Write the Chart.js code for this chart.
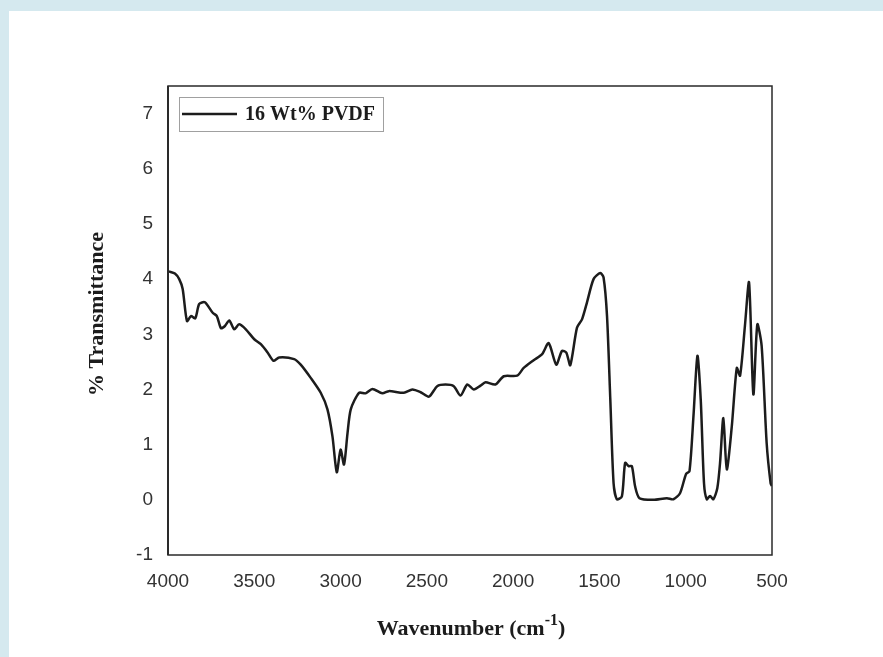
<!DOCTYPE html>
<html>
<head>
<meta charset="utf-8">
<script src="https://cdn.jsdelivr.net/npm/chart.js@4.4.0/dist/chart.umd.min.js"></script>
<style>
  html, body { margin: 0; padding: 0; }
  body { width: 883px; height: 657px; background: #d5e9ef; position: relative; overflow: hidden; }
  #panel { position: absolute; left: 9px; top: 11px; right: 0; bottom: 0; background: #ffffff; }
  #grafico { position: absolute; left: 0; top: 0; }
</style>
</head>
<body>
<div id="panel"></div>
<canvas id="grafico" width="883" height="657"></canvas>
<script>
const serieNombre = '16 Wt% PVDF';
const numerosOnda = [3995, 3960, 3935, 3915, 3890, 3867, 3842, 3819, 3786, 3741, 3717, 3693, 3670, 3645, 3616, 3588, 3549, 3500, 3462, 3423, 3389, 3356, 3269, 3231, 3173, 3115, 3076, 3047, 3022, 3000, 2980, 2960, 2941, 2893, 2855, 2816, 2758, 2720, 2633, 2584, 2536, 2488, 2440, 2392, 2344, 2305, 2266, 2228, 2189, 2160, 2103, 2054, 1977, 1939, 1881, 1832, 1794, 1750, 1717, 1692, 1669, 1630, 1601, 1572, 1534, 1495, 1476, 1456, 1437, 1418, 1399, 1370, 1351, 1331, 1312, 1293, 1268, 1187, 1109, 1071, 1033, 998, 978, 955, 932, 913, 894, 878, 859, 840, 817, 801, 782, 762, 733, 704, 685, 657, 633, 608, 585, 560, 531, 508, 500];
const transmitancia = [4.14, 4.10, 4.00, 3.82, 3.24, 3.33, 3.29, 3.55, 3.58, 3.39, 3.33, 3.11, 3.15, 3.25, 3.09, 3.18, 3.09, 2.91, 2.82, 2.67, 2.52, 2.58, 2.55, 2.45, 2.21, 1.94, 1.64, 1.15, 0.50, 0.91, 0.64, 1.20, 1.64, 1.94, 1.93, 2.01, 1.93, 1.97, 1.94, 2.00, 1.95, 1.87, 2.06, 2.09, 2.06, 1.89, 2.09, 2.00, 2.07, 2.13, 2.09, 2.24, 2.25, 2.39, 2.53, 2.64, 2.84, 2.45, 2.70, 2.67, 2.44, 3.12, 3.27, 3.58, 4.00, 4.11, 4.03, 3.33, 1.82, 0.30, 0.01, 0.06, 0.67, 0.61, 0.61, 0.24, 0.03, 0.00, 0.03, 0.01, 0.12, 0.47, 0.52, 1.52, 2.61, 1.82, 0.30, 0.01, 0.07, 0.01, 0.21, 0.67, 1.48, 0.55, 1.33, 2.39, 2.25, 3.15, 3.94, 1.91, 3.18, 2.79, 1.03, 0.30, 0.25];
const ticksX = [4000, 3500, 3000, 2500, 2000, 1500, 1000, 500];
const ticksY = [-1, 0, 1, 2, 3, 4, 5, 6, 7];

const fuenteSerif = "'Liberation Serif', 'Times New Roman', serif";
const fuenteSans = "'Liberation Sans', Arial, sans-serif";

// marco, leyenda y titulos de ejes
const decoracion = {
    id: 'decoracion',
    afterDraw(chart) {
        const ctx = chart.ctx;
        const a = chart.chartArea;
        ctx.save();

        // marco del grafico
        ctx.strokeStyle = '#2a2a2a';
        ctx.lineWidth = 1.5;
        ctx.strokeRect(a.left, a.top, a.right - a.left, a.bottom - a.top);
        ctx.lineWidth = 2;
        ctx.beginPath();
        ctx.moveTo(a.left, a.top);
        ctx.lineTo(a.left, a.bottom);
        ctx.stroke();

        // leyenda
        ctx.strokeStyle = '#a0a0a0';
        ctx.lineWidth = 1;
        ctx.strokeRect(a.left + 11.5, a.top + 11.5, 204, 34);
        ctx.strokeStyle = '#1c1c1c';
        ctx.lineWidth = 2.5;
        ctx.beginPath();
        ctx.moveTo(a.left + 14, a.top + 28);
        ctx.lineTo(a.left + 69, a.top + 28);
        ctx.stroke();
        ctx.fillStyle = '#1c1c1c';
        ctx.font = 'bold 20px ' + fuenteSerif;
        ctx.textBaseline = 'middle';
        ctx.textAlign = 'left';
        ctx.fillText(chart.data.datasets[0].label, a.left + 77, a.top + 29);

        // titulo eje Y
        ctx.save();
        ctx.translate(97, 314);
        ctx.rotate(-Math.PI / 2);
        ctx.textAlign = 'center';
        ctx.font = 'bold 22px ' + fuenteSerif;
        ctx.fillText('% Transmittance', 0, 0);
        ctx.restore();

        // titulo eje X con superindice
        const base = 'Wavenumber (cm';
        const sup = '-1';
        const cierre = ')';
        ctx.textBaseline = 'alphabetic';
        ctx.font = 'bold 22px ' + fuenteSerif;
        const w1 = ctx.measureText(base).width;
        const w3 = ctx.measureText(cierre).width;
        ctx.font = 'bold 16px ' + fuenteSerif;
        const w2 = ctx.measureText(sup).width;
        let x = 471 - (w1 + w2 + w3) / 2;
        const y = 635;
        ctx.font = 'bold 22px ' + fuenteSerif;
        ctx.fillText(base, x, y);
        x += w1;
        ctx.font = 'bold 16px ' + fuenteSerif;
        ctx.fillText(sup, x, y - 10);
        x += w2;
        ctx.font = 'bold 22px ' + fuenteSerif;
        ctx.fillText(cierre, x, y);

        ctx.restore();
    }
};

const ctx = document.getElementById('grafico').getContext('2d');
const grafico = new Chart(ctx, {
    type: 'line',
    data: {
        datasets: [{
            label: serieNombre,
            data: numerosOnda.map((w, i) => ({ x: w, y: transmitancia[i] })),
            borderColor: '#1c1c1c',
            borderWidth: 2.5,
            pointRadius: 0,
            tension: 0.25,
            fill: false
        }]
    },
    options: {
        responsive: false,
        animation: false,
        devicePixelRatio: 1,
        layout: {
            padding: { top: 86, right: 111, left: 0, bottom: 0 }
        },
        plugins: {
            legend: { display: false },
            tooltip: { enabled: false }
        },
        scales: {
            x: {
                type: 'linear',
                reverse: true,
                min: 500,
                max: 4000,
                afterBuildTicks: (s) => { s.ticks = ticksX.map(v => ({ value: v })); },
                afterFit: (s) => { s.height = 102; },
                grid: { display: false, drawTicks: false },
                border: { display: false },
                ticks: {
                    padding: 15,
                    maxRotation: 0,
                    color: '#333333',
                    font: { size: 19, family: fuenteSans },
                    callback: (v) => String(v)
                }
            },
            y: {
                min: -1,
                max: 7.5,
                afterBuildTicks: (s) => { s.ticks = ticksY.map(v => ({ value: v })); },
                afterFit: (s) => { s.width = 168; },
                grid: { display: false, drawTicks: false },
                border: { display: false },
                ticks: {
                    padding: 15,
                    color: '#333333',
                    font: { size: 19, family: fuenteSans },
                    callback: (v) => String(v)
                }
            }
        }
    },
    plugins: [decoracion]
});
</script>
</body>
</html>
